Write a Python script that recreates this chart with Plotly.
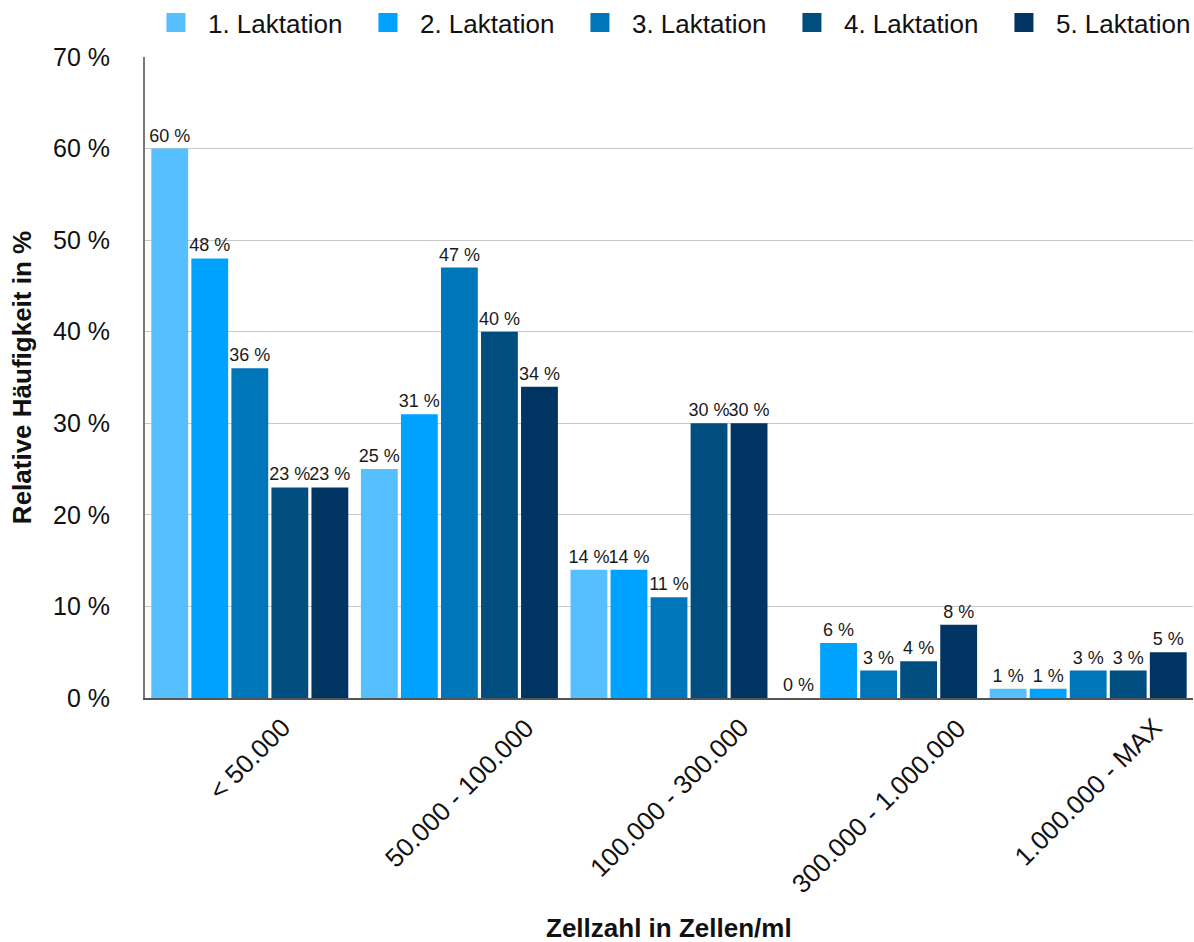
import plotly.graph_objects as go

# Zellzahl-Klassen und relative Häufigkeiten je Laktation (in %)
categories = ["< 50.000", "50.000 - 100.000", "100.000 - 300.000",
              "300.000 - 1.000.000", "1.000.000 - MAX"]
series_names = ["1. Laktation", "2. Laktation", "3. Laktation",
                "4. Laktation", "5. Laktation"]
lakt1 = [60, 25, 14, 0, 1]
lakt2 = [48, 31, 14, 6, 1]
lakt3 = [36, 47, 11, 3, 3]
lakt4 = [23, 40, 30, 4, 3]
lakt5 = [23, 34, 30, 8, 5]
y_ticks = [0, 10, 20, 30, 40, 50, 60, 70]
y_tick_labels = ["0 %", "10 %", "20 %", "30 %", "40 %", "50 %", "60 %", "70 %"]

series_values = [lakt1, lakt2, lakt3, lakt4, lakt5]
colors = ["#56BFFF", "#00A2FF", "#0076BA", "#004E80", "#003462"]
FONT = "Arial, Liberation Sans, sans-serif"
TEXT = "#111111"

fig = go.Figure()
for name, vals, col in zip(series_names, series_values, colors):
    fig.add_trace(go.Bar(
        name=name, x=categories, y=vals, legendgroup=name, showlegend=False,
        marker=dict(color=col, line=dict(width=0)),
        text=[f"{v} %" for v in vals],
        textposition="outside",
        textfont=dict(family=FONT, size=18, color="#1a1a1a"),
        constraintext="none",
        cliponaxis=False,
    ))

# Legend entries with larger square swatches
for name, col in zip(series_names, colors):
    fig.add_trace(go.Scatter(
        name=name, x=[None], y=[None], mode="markers", legendgroup=name,
        marker=dict(symbol="square", size=16, color=col,
                    line=dict(color=col, width=3)),
        hoverinfo="skip",
    ))

# Rotated category labels, centred under each group
for cat in categories:
    fig.add_annotation(
        x=cat, xref="x", y=0, yref="y", yshift=-12,
        text=cat, textangle=-45, showarrow=False,
        xanchor="center", yanchor="top",
        font=dict(family=FONT, size=26, color=TEXT),
    )

fig.add_annotation(
    x=0.5, xref="paper", y=-0.359, yref="paper",
    text="<b>Zellzahl in Zellen/ml</b>", showarrow=False,
    xanchor="center", yanchor="middle",
    font=dict(family=FONT, size=26, color=TEXT),
)

fig.update_layout(
    width=1194, height=942,
    margin=dict(l=145, r=1, t=57, b=244, autoexpand=False),
    paper_bgcolor="white", plot_bgcolor="white",
    barmode="group", bargap=0.045, bargroupgap=0.08,
    font=dict(family=FONT, color=TEXT),
    legend=dict(
        orientation="h", x=-0.001, y=1.017,
        xanchor="left", yanchor="bottom",
        font=dict(family=FONT, size=26, color=TEXT),
        entrywidth=143, entrywidthmode="pixels",
        itemwidth=54, traceorder="normal", itemsizing="trace",
        bgcolor="rgba(0,0,0,0)",
    ),
    showlegend=True,
)

fig.update_xaxes(
    showticklabels=False, showgrid=False, ticks="",
    showline=True, linecolor="#555555", linewidth=2,
    range=[-0.5, len(categories) - 0.5],
)
fig.update_yaxes(
    range=[0, 70], tickvals=y_ticks, ticktext=y_tick_labels,
    tickfont=dict(family=FONT, size=25, color=TEXT),
    showgrid=True, gridcolor="#C8C8C8", gridwidth=1,
    showline=True, linecolor="#777777", linewidth=2,
    ticks="", ticklabelstandoff=28, zeroline=False,
    title=dict(text="<b>Relative Häufigkeit in %</b>",
               font=dict(family=FONT, size=26, color=TEXT),
               standoff=14),
)

fig.write_html("out.html")
